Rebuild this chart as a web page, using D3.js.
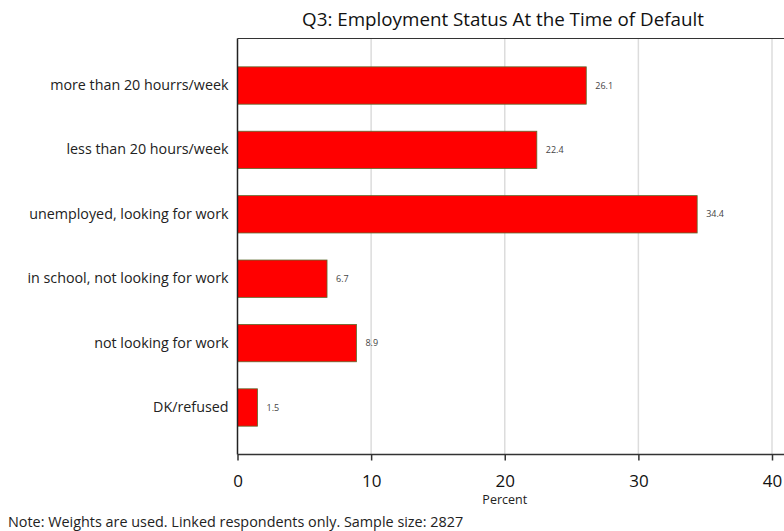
<!DOCTYPE html>
<html><head><meta charset="utf-8">
<script src="https://cdn.jsdelivr.net/npm/d3@7"></script>
<style>body{margin:0;background:#fff;} svg{display:block;}</style>
</head><body>
<script>
const categories = ["more than 20 hourrs/week","less than 20 hours/week","unemployed, looking for work","in school, not looking for work","not looking for work","DK/refused"];
const values = [26.1, 22.4, 34.4, 6.7, 8.9, 1.5];
const xTicks = [0, 10, 20, 30, 40];
const title = "Q3: Employment Status At the Time of Default";
const xLabel = "Percent";
const note = "Note: Weights are used. Linked respondents only. Sample size: 2827";

(function () {
const W = 784, H = 531;
const font = "'Open Sans', sans-serif";
const svg = d3.select("body").append("svg").attr("width", W).attr("height", H);
const pLeft = 237.5, pTop = 38.5, pBottom = 454.5;
const x = d3.scaleLinear().domain([0, 40]).range([pLeft, 772]);
const y = d3.scaleBand().domain(categories).range([pTop, pBottom]).paddingInner(0.42).paddingOuter(0.44);

// gridlines
svg.append("g").selectAll("line").data(xTicks.slice(1)).join("line")
  .attr("x1", d => x(d)).attr("x2", d => x(d)).attr("y1", pTop).attr("y2", pBottom)
  .attr("stroke", "#dcdcdc").attr("stroke-width", 1.5);
// top border
svg.append("line").attr("x1", pLeft).attr("x2", W).attr("y1", pTop).attr("y2", pTop).attr("stroke", "#333").attr("stroke-width", 1);

// bars
svg.append("g").selectAll("rect").data(values).join("rect")
  .attr("x", x(0)).attr("y", (d, i) => y(categories[i]))
  .attr("width", d => x(d) - x(0)).attr("height", y.bandwidth())
  .attr("fill", "#ff0000").attr("stroke", "#5b6b2e").attr("stroke-width", 0.8);

// value labels
svg.append("g").selectAll("text").data(values).join("text")
  .attr("x", d => x(d) + 9).attr("y", (d, i) => y(categories[i]) + y.bandwidth() / 2)
  .attr("dy", "0.35em").attr("font-family", font).attr("font-size", 9).attr("fill", "#444")
  .text(d => d.toFixed(1));

// y axis
const ya = svg.append("g").attr("transform", `translate(${pLeft},0)`)
  .call(d3.axisLeft(y).tickSize(0).tickPadding(9));
ya.select(".domain").attr("stroke", "#222").attr("stroke-width", 1.5).attr("d", `M0,${pTop}V${pBottom}`);
ya.selectAll("text").attr("font-family", font).attr("font-size", 14.3).attr("fill", "#222");

// x axis
const xa = svg.append("g").attr("transform", `translate(0,${pBottom})`)
  .call(d3.axisBottom(x).tickValues(xTicks).tickSize(6).tickPadding(0).tickFormat(d3.format("d")));
xa.select(".domain").attr("stroke", "#333").attr("stroke-width", 1.5).attr("d", `M${pLeft},0H${W}`);
xa.selectAll(".tick line").attr("stroke", "#333").attr("stroke-width", 1.5);
xa.selectAll("text").attr("font-family", font).attr("font-size", 17).attr("fill", "#111")
  .attr("dy", null).attr("y", 32);

svg.append("text").attr("x", x(20)).attr("y", 504).attr("text-anchor", "middle")
  .attr("font-family", font).attr("font-size", 12.5).attr("fill", "#222").text(xLabel);

svg.append("text").attr("x", 503).attr("y", 26).attr("text-anchor", "middle")
  .attr("font-family", font).attr("font-size", 18.8).attr("fill", "#111").text(title);

svg.append("text").attr("x", 8).attr("y", 527)
  .attr("font-family", font).attr("font-size", 14.4).attr("fill", "#222").text(note);
})();
</script>
</body></html>
